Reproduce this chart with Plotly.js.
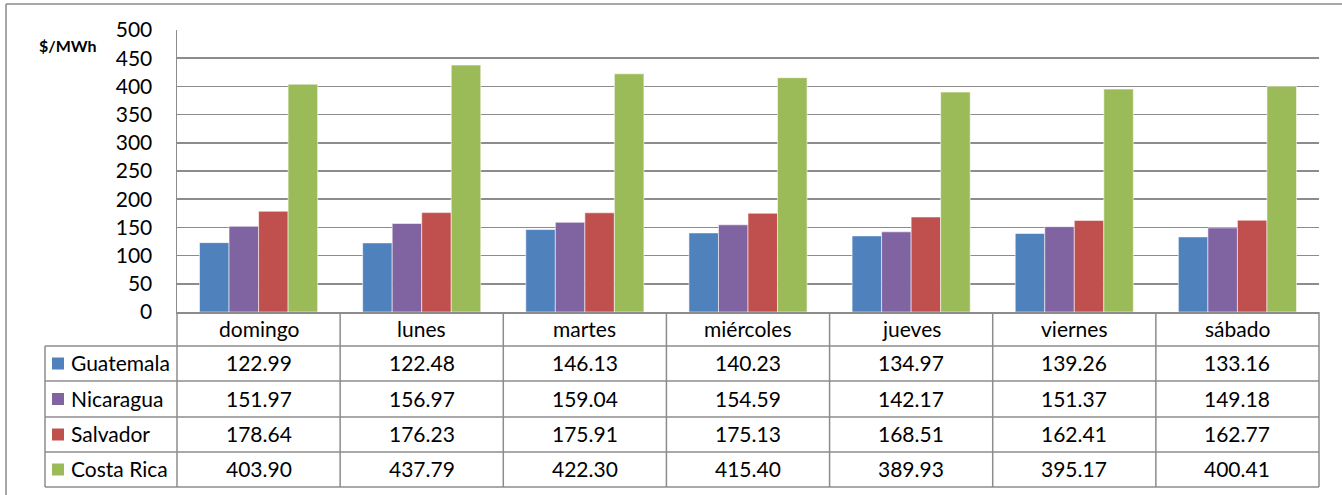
<!DOCTYPE html>
<html>
<head>
<meta charset="utf-8">
<script src="https://cdn.plot.ly/plotly-3.0.1.min.js"></script>
<style>html,body{margin:0;padding:0;background:#fff;}#chart{width:1342px;height:495px;}</style>
</head>
<body>
<div id="chart"></div>
<script>
const days = ['domingo', 'lunes', 'martes', 'miércoles', 'jueves', 'viernes', 'sábado'];
const guatemala = [122.99, 122.48, 146.13, 140.23, 134.97, 139.26, 133.16];
const nicaragua = [151.97, 156.97, 159.04, 154.59, 142.17, 151.37, 149.18];
const salvador = [178.64, 176.23, 175.91, 175.13, 168.51, 162.41, 162.77];
const costaRica = [403.90, 437.79, 422.30, 415.40, 389.93, 395.17, 400.41];
const seriesNames = ['Guatemala', 'Nicaragua', 'Salvador', 'Costa Rica'];
const yTickVals = [0, 50, 100, 150, 200, 250, 300, 350, 400, 450, 500];
const yUnit = '$/MWh';

const seriesValues = [guatemala, nicaragua, salvador, costaRica];
const colors = ['#4F81BD', '#8064A2', '#C0504D', '#9BBB59'];

// layout geometry (pixels)
const W = 1342, H = 495;
const L = 177, R = 1319, T = 30, B = 312;
const px = x => (x - L) / (R - L);
const py = y => (B - y) / (B - T);
const FONT = 'Lato, "Open Sans", sans-serif';
const gridCol = '#8c8c8c';
const FS = 21;

const traces = seriesNames.map((name, i) => ({
  type: 'bar',
  name: name,
  x: days,
  y: seriesValues[i],
  marker: {color: colors[i], line: {color: 'rgba(255,255,255,0.55)', width: 1}},
  hoverinfo: 'x+y+name'
}));

const shapes = [];
const annotations = [];
const line = (x0, y0, x1, y1, color, w) => shapes.push({
  type: 'line', xref: 'paper', yref: 'paper',
  x0: px(x0), y0: py(y0), x1: px(x1), y1: py(y1),
  line: {color: color || gridCol, width: w || 1.5}
});

// outer frame
line(6, 4, 1345, 4, '#8a8a8a', 1.5);
line(6, 4, 6, 498, '#8a8a8a', 1.5);

// table geometry
const colEdges = [];
for (let i = 0; i <= days.length; i++) colEdges.push(L + (R - L) * i / days.length);
const rowEdges = [346, 381, 417, 452, 487];
const tableLeft = 45;

// horizontal lines
rowEdges.forEach(y => line(tableLeft, y, R, y));
// vertical lines
line(tableLeft, rowEdges[0], tableLeft, rowEdges[rowEdges.length - 1]);
colEdges.forEach(x => line(x, B, x, rowEdges[rowEdges.length - 1]));

// category labels
days.forEach((d, i) => annotations.push({
  xref: 'paper', yref: 'paper', x: px((colEdges[i] + colEdges[i + 1]) / 2), y: py((B + rowEdges[0]) / 2 - 1),
  text: d, showarrow: false, xanchor: 'center', yanchor: 'middle',
  font: {family: FONT, size: FS, color: '#000'}
}));

// rows
seriesNames.forEach((name, r) => {
  const yc = (rowEdges[r] + rowEdges[r + 1]) / 2;
  shapes.push({type: 'rect', xref: 'paper', yref: 'paper',
    x0: px(52), x1: px(64), y0: py(yc - 6), y1: py(yc + 6),
    fillcolor: colors[r], line: {width: 0}});
  annotations.push({xref: 'paper', yref: 'paper', x: px(69), y: py(yc - 1),
    text: name, showarrow: false, xanchor: 'left', yanchor: 'middle',
    font: {family: FONT, size: FS, color: '#000'}});
  seriesValues[r].forEach((v, i) => annotations.push({
    xref: 'paper', yref: 'paper', x: px((colEdges[i] + colEdges[i + 1]) / 2), y: py(yc - 1),
    text: v.toFixed(2), showarrow: false, xanchor: 'center', yanchor: 'middle',
    font: {family: FONT, size: FS, color: '#000'}
  }));
});

// unit label
annotations.push({xref: 'paper', yref: 'paper', x: px(68), y: py(46),
  text: '<b>' + yUnit + '</b>', showarrow: false, xanchor: 'center', yanchor: 'middle',
  font: {family: FONT, size: 16, color: '#000'}});

const layout = {
  width: W, height: H,
  margin: {l: L, r: W - R, t: T, b: H - B, pad: 0},
  paper_bgcolor: '#fff', plot_bgcolor: '#fff',
  barmode: 'group', bargap: 0.276, bargroupgap: 0,
  showlegend: false,
  font: {family: FONT, size: FS, color: '#000'},
  xaxis: {type: 'category', range: [-0.5, days.length - 0.5], showticklabels: false,
    showgrid: false, zeroline: false, showline: true, linecolor: gridCol, linewidth: 1.5, ticks: '', fixedrange: true},
  yaxis: {range: [0, 500], tickvals: yTickVals, ticktext: yTickVals.map(String),
    showgrid: true, gridcolor: gridCol, gridwidth: 1.5, zeroline: false,
    showline: true, linecolor: gridCol, linewidth: 1.5, ticks: '', ticklabelstandoff: 19,
    tickfont: {family: FONT, size: FS, color: '#000'}, fixedrange: true},
  shapes: shapes,
  annotations: annotations
};

Plotly.newPlot('chart', traces, layout, {displayModeBar: false, staticPlot: true});
</script>
</body>
</html>
